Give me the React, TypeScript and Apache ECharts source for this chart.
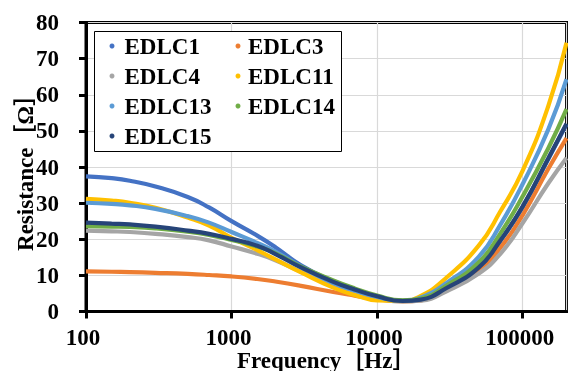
import React, { useEffect, useRef } from "react";
import * as echarts from "echarts";

const freqs = [100, 150, 200, 300, 500, 700, 1000, 1500, 2000, 3000, 5000, 7000, 10000, 15000, 20000, 30000, 50000, 70000, 100000, 150000, 200000];

const edlc1 = [37.4, 36.9, 36.2, 34.6, 31.7, 28.8, 25.0, 21.0, 17.8, 12.8, 8.3, 6.0, 4.0, 2.9, 3.2, 6.4, 12.0, 19.4, 28.9, 42.2, 51.8];
const edlc3 = [11.1, 11.0, 10.9, 10.7, 10.4, 10.1, 9.7, 9.0, 8.3, 7.1, 5.4, 4.4, 3.4, 2.8, 3.1, 6.1, 11.0, 17.6, 26.7, 39.5, 48.0];
const edlc4 = [22.4, 22.2, 22.0, 21.5, 20.6, 19.7, 18.0, 16.0, 14.2, 11.0, 7.0, 5.0, 3.6, 2.8, 3.0, 5.6, 10.5, 15.9, 24.5, 35.5, 42.5];
const edlc11 = [31.2, 30.7, 30.1, 28.7, 26.0, 23.8, 20.4, 17.0, 14.4, 10.8, 6.6, 4.6, 3.1, 3.0, 4.3, 9.4, 18.3, 27.6, 39.0, 56.9, 74.4];
const edlc13 = [30.1, 29.8, 29.4, 28.4, 26.4, 24.6, 22.0, 19.0, 16.6, 12.4, 7.9, 5.8, 4.0, 3.0, 3.9, 7.9, 15.2, 23.9, 35.3, 50.4, 64.3];
const edlc14 = [23.6, 23.5, 23.4, 23.0, 22.1, 21.2, 19.8, 18.0, 16.1, 12.4, 8.6, 6.4, 4.4, 3.1, 3.6, 7.2, 13.6, 21.5, 31.9, 45.2, 56.0];
const edlc15 = [24.6, 24.3, 24.1, 23.5, 22.4, 21.5, 20.1, 18.2, 15.9, 12.2, 8.2, 6.1, 4.2, 2.9, 3.3, 6.5, 12.2, 19.6, 29.1, 42.4, 52.0];

const seriesNames = ["EDLC1", "EDLC3", "EDLC4", "EDLC11", "EDLC13", "EDLC14", "EDLC15"];
const seriesValues = [edlc1, edlc3, edlc4, edlc11, edlc13, edlc14, edlc15];
const seriesColors = ["#4472C4", "#ED7D31", "#A5A5A5", "#FFC000", "#5B9BD5", "#70AD47", "#264478"];

const legendCol1 = ["EDLC1", "EDLC4", "EDLC13", "EDLC15"];
const legendCol2 = ["EDLC3", "EDLC11", "EDLC14"];

const yMin = 0;
const yMax = 80;
const yStep = 10;

const FONT = "'Liberation Serif', 'Times New Roman', 'Noto Sans CJK JP', serif";
const FS = 23;

export default function App() {
  const ref = useRef<HTMLDivElement>(null);
  useEffect(() => {
    if (!ref.current) return;
    const chart = echarts.init(ref.current, null, { renderer: "svg" });
    const legendBase = {
      orient: "vertical" as const,
      top: 34.5,
      padding: 0,
      itemGap: 30 - FS,
      itemWidth: 5,
      itemHeight: 5,
      icon: "circle",
      z: 5,
    };
    const lt = (pad: number) => ({
      fontFamily: FONT,
      fontWeight: "bold" as const,
      fontSize: FS,
      color: "#000",
      lineHeight: FS,
      padding: [0, 0, 0, pad],
    });
    const labelFont = { fontFamily: FONT, fontWeight: "bold" as const, fontSize: FS, color: "#000" };
    chart.setOption({
      animation: false,
      grid: {
        left: 86,
        right: 1.5,
        top: 22.5,
        bottom: 59.5,
        containLabel: false,
        outerBoundsMode: "none",
        show: true,
        borderColor: "#000",
        borderWidth: 3,
        backgroundColor: "#fff",
      },
      graphic: [
        {
          type: "rect",
          z: 3,
          shape: { x: 94.5, y: 31.5, width: 247, height: 120 },
          style: { fill: "#fff", stroke: "#000", lineWidth: 1 },
        },
      ],
      legend: [
        { ...legendBase, data: legendCol1, left: 109.5, textStyle: lt(5) },
        { ...legendBase, data: legendCol2, left: 235.5, textStyle: lt(2.5) },
      ],
      xAxis: {
        type: "log",
        logBase: 10,
        min: 100,
        max: 200000,
        name: "Frequency\uFF3BHz\uFF3D",
        nameLocation: "middle",
        nameGap: 37,
        nameMoveOverlap: false,
        nameTextStyle: labelFont,
        axisLine: { show: true, onZero: false, lineStyle: { color: "#000", width: 3 } },
        axisTick: { show: true, inside: false, length: 7, lineStyle: { color: "#000", width: 3 } },
        axisLabel: {
          showMaxLabel: false,
          margin: 14,
          ...labelFont,
          padding: [0, 6, 0, 0],
          formatter: (v: number) => String(Math.round(v)),
        },
        splitLine: { show: true, lineStyle: { color: "#d9d9d9", width: 1.2 } },
        minorTick: { show: false },
      },
      yAxis: {
        type: "value",
        min: yMin,
        max: yMax,
        interval: yStep,
        name: "Resistance\uFF3B\u03A9\uFF3D",
        nameLocation: "middle",
        nameGap: 49,
        nameMoveOverlap: false,
        nameRotate: 90,
        nameTextStyle: labelFont,
        axisLine: { show: true, onZero: false, lineStyle: { color: "#000", width: 3 } },
        axisTick: { show: true, inside: false, length: 7, lineStyle: { color: "#000", width: 3 } },
        axisLabel: { margin: 27, ...labelFont },
        splitLine: { show: true, lineStyle: { color: "#d9d9d9", width: 1.2 } },
      },
      series: seriesNames.map((name, i) => ({
        name,
        type: "line",
        data: freqs.map((f, j) => [f, seriesValues[i][j]]),
        smooth: 0.5,
        showSymbol: false,
        symbol: "circle",
        color: seriesColors[i],
        lineStyle: { color: seriesColors[i], width: 4.2 },
        emphasis: { disabled: true },
        z: 2 + i * 0.01,
      })),
    });
    return () => chart.dispose();
  }, []);
  return <div ref={ref} style={{ position: "fixed", left: 0, top: 0, width: 568, height: 371 }} />;
}
